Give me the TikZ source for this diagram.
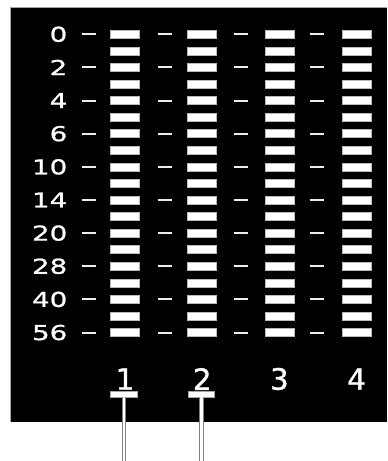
\documentclass[tikz,border=0pt]{standalone}
\usepackage{fontspec}
\newfontfamily\rowfont[FakeStretch=1.35,FakeBold=1]{DejaVu Sans}
\newfontfamily\colfont[FakeBold=1]{DejaVu Sans}
\begin{document}
\begin{tikzpicture}[x=1bp,y=-1bp,
  bar/.style={rectangle, fill=white, draw=gray!55, line width=0.5bp, inner sep=0pt,
    minimum width=29bp, minimum height=8bp},
  tick/.style={draw=white!85!gray, line width=2bp},
  rowlab/.style={text=white, inner sep=0pt, anchor=east, font=\rowfont\fontsize{20.6}{20.6}\selectfont},
  collab/.style={text=white, inner sep=0pt, font=\colfont\fontsize{29.5}{29.5}\selectfont},
  tbar/.style={rectangle, fill=white, draw=gray!70, line width=0.7bp, inner sep=0pt,
    minimum width=26.5bp, minimum height=6bp},
  stem/.style={draw=gray, line width=1.1bp, double=white, double distance=2.2bp}]
\useasboundingbox (0,0) rectangle (387,461);
\fill[black] (10.5,7.5) rectangle (387,422);
\draw[gray!70, line width=0.8bp] (10.5,422) -- (10.5,7.5) -- (387,7.5);
% bars
\foreach \c in {1,...,4}{
  \foreach \i in {0,...,18}{
    \node[bar] (b-\c-\i) at ({125+77.2*(\c-1)}, {34.3+16.57*\i}) {};
  }
}
% row labels and ticks
\foreach \lab [count=\k from 0] in {0,2,4,6,10,14,20,28,40,56}{
  \pgfmathsetmacro{\yy}{34.3+2*16.57*\k}
  \node[rowlab] (r-\k) at (67.5,\yy) {\lab};
  \foreach \t in {0,...,3}{
    \draw[tick] ({81.5+76*\t},\yy) -- ({95.5+76*\t},\yy);
  }
}
% column labels
\foreach \c in {1,...,4}{
  \node[collab] (c-\c) at ({125+77.2*(\c-1)}, 379) {\c};
}
% stems under columns 1 and 2
\node[tbar] (t1) at (124,394) {};
\node[tbar] (t2) at (201.5,394) {};
\coordinate (e1) at (124,464);
\coordinate (e2) at (201.5,464);
\draw[stem] (t1.south) -- (e1);
\draw[stem] (t2.south) -- (e2);
\end{tikzpicture}
\end{document}
